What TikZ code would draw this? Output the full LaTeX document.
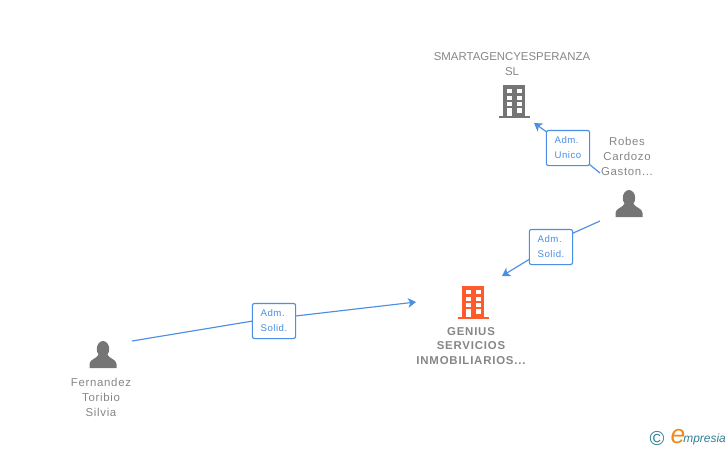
\documentclass[tikz,border=0pt]{standalone}
\usepackage{fontspec}
\setmainfont{Liberation Sans}
\usetikzlibrary{arrows.meta}
\definecolor{linkblue}{HTML}{4A8FE3}
\definecolor{namegray}{HTML}{868686}
\definecolor{icongray}{HTML}{757575}
\definecolor{firmorange}{HTML}{FF5A2B}
\definecolor{logoteal}{HTML}{2F7F96}
\definecolor{logoorange}{HTML}{EE8A1D}
% building with its top left corner at (#2,#3)
\def\buildingicon[#1](#2,#3){
	\fill[#1] (#2, #3) rectangle ++(22, 31);
	\fill[#1] (#2-4.5, #3+31) rectangle ++(31, 2.4);
	\foreach \col in {4, 13.5} {
		\foreach \row in {4, 10.5, 17} {
			\fill[white] (#2+\col, #3+\row) rectangle ++(5, 4);
		}
	}
	\fill[white] (#2+4, #3+23) rectangle ++(4.5, 8);
	\fill[white] (#2+13.5, #3+23) rectangle ++(5, 4.5);
}
% person with the middle of its head at (#1,#2)
\def\personicon(#1,#2){
	\fill[icongray] (#1, #2) ellipse (6.2 and 8);
	\fill[icongray] (#1-13.5, #2+19) -- (#1-13.5, #2+15) .. controls (#1-13.5, #2+10) and (#1-6, #2+10) .. (#1-4, #2+5) -- (#1+4, #2+5) .. controls (#1+6, #2+10) and (#1+13.5, #2+10) .. (#1+13.5, #2+15) -- (#1+13.5, #2+19) -- cycle;
}
\tikzset{
	namelabel/.style={text=namegray, align=center, inner sep=0, font=\fontsize{6.5}{8.5}\selectfont\addfontfeature{LetterSpace=6}},
	widelabel/.style={namelabel, font=\fontsize{6.5}{8.5}\selectfont},
	boldlabel/.style={namelabel, font=\fontsize{6.5}{8.5}\selectfont\bfseries\addfontfeature{LetterSpace=7}},
	rolebox/.style={draw=linkblue, fill=white, rounded corners=1.2pt, line width=0.65pt, text=linkblue, align=left, inner sep=0, minimum width=24.6pt, minimum height=20pt, font=\fontsize{5.5}{8.5}\selectfont\addfontfeature{LetterSpace=5}},
	rolelink/.style={draw=linkblue, line width=0.65pt},
	rolearrow/.style={rolelink, -{Stealth[length=4.5pt, width=5.5pt, inset=1.2pt]}}
}

\begin{document}
\begin{tikzpicture}[x=0.02cm, y=-0.02cm]
	\useasboundingbox (0, 0) rectangle (728, 450);
	%%%%% START %%%%%
	\buildingicon[icongray](503, 85);
	\buildingicon[firmorange](462, 286);
	\personicon(629, 198);
	\personicon(103, 349);

	\node[widelabel] (smart) at (512, 64) {SMARTAGENCYESPERANZA\\SL};
	\node[namelabel] (robes) at (627, 156) {Robes\\Cardozo\\Gaston...};
	\node[boldlabel] (genius) at (471, 346) {GENIUS\\SERVICIOS\\INMOBILIARIOS...};
	\node[namelabel] (fernandez) at (101, 397) {Fernandez\\Toribio\\Silvia};

	\coordinate (smartin) at (534, 123);
	\coordinate (robesout) at (600, 173);
	\coordinate (robesdown) at (600, 221);
	\coordinate (geniustop) at (502, 276);
	\coordinate (geniusin) at (416, 302);
	\coordinate (fernandezout) at (132, 341);

	\draw[rolelink] (robesout) -- (568, 147);
	\draw[rolearrow] (568, 147) -- (smartin);
	\draw[rolelink] (robesdown) -- (551, 243);
	\draw[rolearrow] (551, 246) -- (geniustop);
	\draw[rolelink] (fernandezout) -- (274, 317.5);
	\draw[rolearrow] (274, 318.5) -- (geniusin);

	\node[rolebox] (unico) at (568, 148) {Adm.\\Unico};
	\node[rolebox] (solidright) at (551, 247) {Adm.\\Solid.};
	\node[rolebox] (solidleft) at (274, 321) {Adm.\\Solid.};

	\node[text=logoteal, inner sep=0, font=\fontsize{11.5}{12}\selectfont] (copy) at (657, 439) {\textcopyright};
	\node[text=logoorange, inner sep=0, font=\fontsize{15}{15}\selectfont\itshape] (logoe) at (678, 437) {e};
	\node[text=logoteal, inner sep=0, anchor=west, font=\fontsize{6.8}{8}\selectfont\itshape] (logotext) at (683, 439) {mpresia};
	%%%%% END %%%%%
\end{tikzpicture}
\end{document}
